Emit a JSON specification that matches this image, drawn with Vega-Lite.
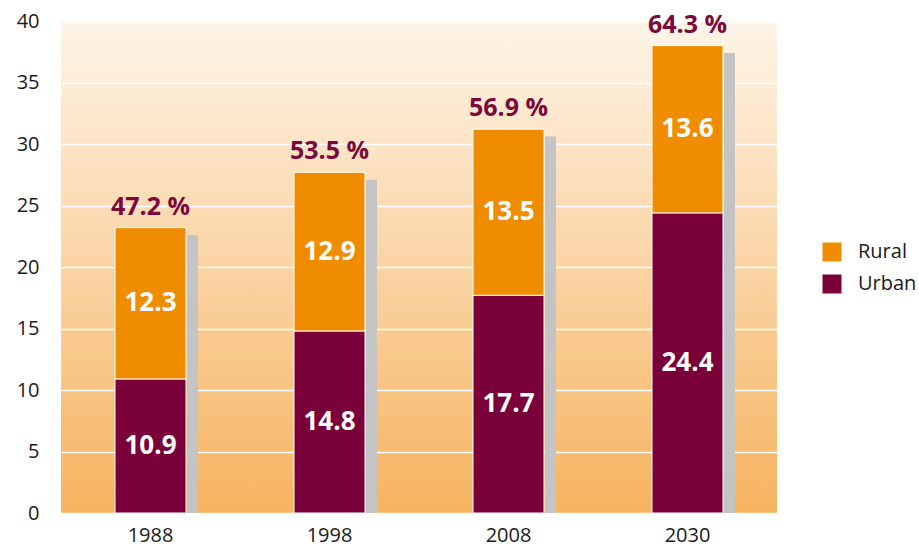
{
  "$schema": "https://vega.github.io/schema/vega-lite/v6.json",
  "width": 716,
  "height": 492,
  "autosize": "none",
  "padding": {"left": 61, "top": 21, "right": 142, "bottom": 36},
  "background": "white",
  "config": {
    "font": "Open Sans",
    "view": {
      "stroke": null,
      "fill": {
        "gradient": "linear",
        "x1": 0, "y1": 0, "x2": 0, "y2": 1,
        "stops": [
          {"offset": 0, "color": "#FEF4E8"},
          {"offset": 1, "color": "#F6B35F"}
        ]
      }
    },
    "axis": {"domain": false, "ticks": false, "labelColor": "#1a1a1a", "labelFontSize": 20, "title": null}
  },
  "datasets": {
    "seg": [
      {"year": "1988", "type": "Urban", "value": 10.9, "order": 1},
      {"year": "1988", "type": "Rural", "value": 12.3, "order": 2},
      {"year": "1998", "type": "Urban", "value": 14.8, "order": 1},
      {"year": "1998", "type": "Rural", "value": 12.9, "order": 2},
      {"year": "2008", "type": "Urban", "value": 17.7, "order": 1},
      {"year": "2008", "type": "Rural", "value": 13.5, "order": 2},
      {"year": "2030", "type": "Urban", "value": 24.4, "order": 1},
      {"year": "2030", "type": "Rural", "value": 13.6, "order": 2}
    ],
    "tot": [
      {"year": "1988", "total": 23.2, "shadow": 22.6, "pct": "47.2 %"},
      {"year": "1998", "total": 27.7, "shadow": 27.1, "pct": "53.5 %"},
      {"year": "2008", "total": 31.2, "shadow": 30.6, "pct": "56.9 %"},
      {"year": "2030", "total": 38.0, "shadow": 37.4, "pct": "64.3 %"}
    ]
  },
  "encoding": {
    "x": {
      "field": "year", "type": "ordinal",
      "scale": {"paddingInner": 0, "paddingOuter": 0},
      "axis": {"labelAngle": 0, "labelPadding": 12, "labelFontSize": 20, "title": null}
    }
  },
  "layer": [
    {
      "data": {"name": "tot"},
      "mark": {"type": "bar", "width": 11, "xOffset": 42, "color": "#C4C4C4"},
      "encoding": {
        "y": {
          "field": "shadow", "type": "quantitative",
          "scale": {"domain": [0, 40]},
          "axis": {"values": [0, 5, 10, 15, 20, 25, 30, 35, 40], "grid": true, "gridColor": "white", "gridWidth": 1.5, "labelPadding": 22, "labelFontSize": 20, "title": null}
        }
      }
    },
    {
      "data": {"name": "seg"},
      "transform": [
        {"stack": "value", "groupby": ["year"], "sort": [{"field": "order"}], "as": ["y0", "y1"]},
        {"calculate": "(datum.y0 + datum.y1) / 2", "as": "mid"}
      ],
      "layer": [
        {
          "mark": {"type": "bar", "width": 71, "stroke": "white", "strokeWidth": 1},
          "encoding": {
            "y": {"field": "y0", "type": "quantitative"},
            "y2": {"field": "y1"},
            "color": {
              "field": "type", "type": "nominal",
              "scale": {"domain": ["Rural", "Urban"], "range": ["#F08C00", "#7A0039"]},
              "legend": {
                "title": null, "orient": "none", "legendX": 761, "legendY": 221,
                "symbolType": "square", "symbolSize": 361, "symbolStrokeWidth": 0,
                "labelFontSize": 20, "labelColor": "#1a1a1a", "labelOffset": 16, "rowPadding": 12
              }
            }
          }
        },
        {
          "mark": {"type": "text", "color": "white", "fontSize": 26, "fontWeight": "bold", "baseline": "middle"},
          "encoding": {
            "y": {"field": "mid", "type": "quantitative"},
            "text": {"field": "value", "type": "quantitative", "format": ".1f"}
          }
        }
      ]
    },
    {
      "data": {"name": "tot"},
      "mark": {"type": "text", "color": "#7A0A3B", "fontSize": 25, "fontWeight": "bold", "baseline": "alphabetic", "dy": -13},
      "encoding": {
        "y": {"field": "total", "type": "quantitative"},
        "text": {"field": "pct", "type": "nominal"}
      }
    }
  ]
}
